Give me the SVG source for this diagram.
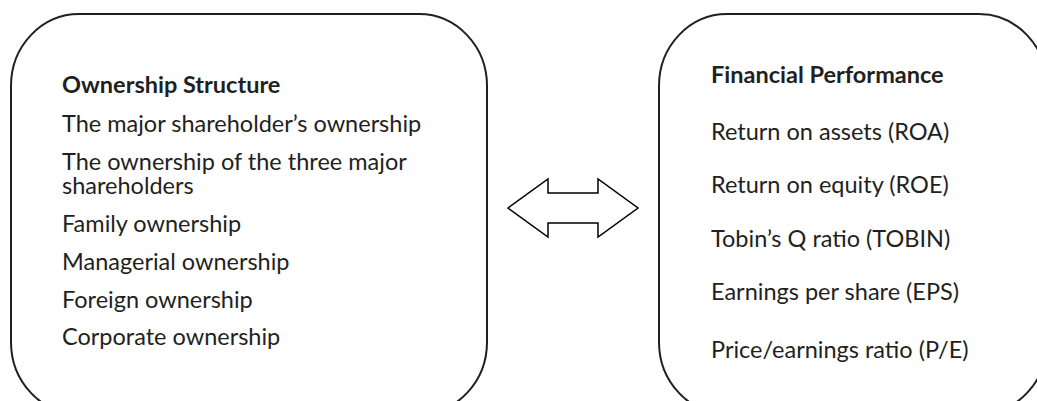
<svg xmlns="http://www.w3.org/2000/svg" width="1037" height="401" viewBox="0 0 1037 401">
<style>
.box{fill:none;stroke:#231f20;stroke-width:2}
.arrow{fill:#fff;stroke:#000;stroke-width:1.5;stroke-linejoin:miter}
text{font-family:Lato,"Open Sans","Liberation Sans",sans-serif;fill:#231f20;font-size:23.5px}
.h{font-weight:bold}
</style>
<rect width="1037" height="401" fill="#fff"/>
<g id="ownership">
<rect class="box" x="11" y="14" width="476" height="400" rx="68" ry="72"/>
<text class="h" x="62" y="93">Ownership Structure</text>
<text x="62" y="132">The major shareholder’s ownership</text>
<text x="62" y="170">The ownership of the three major<tspan x="62" dy="24">shareholders</tspan></text>
<text x="62" y="232">Family ownership</text>
<text x="62" y="270">Managerial ownership</text>
<text x="62" y="308">Foreign ownership</text>
<text x="62" y="345">Corporate ownership</text>
</g>
<g id="performance">
<rect class="box" x="659" y="14" width="388" height="400" rx="68" ry="72"/>
<text class="h" x="711" y="83">Financial Performance</text>
<text x="711" y="140">Return on assets (ROA)</text>
<text x="711" y="193">Return on equity (ROE)</text>
<text x="711" y="247">Tobin’s Q ratio (TOBIN)</text>
<text x="711" y="300">Earnings per share (EPS)</text>
<text x="711" y="358">Price/earnings ratio (P/E)</text>
</g>
<g id="connectors">
<path class="arrow" d="M508,208 L548,179 L548,193 L598,193 L598,179 L638,208 L598,237 L598,223 L548,223 L548,237 Z"/>
</g>
</svg>
